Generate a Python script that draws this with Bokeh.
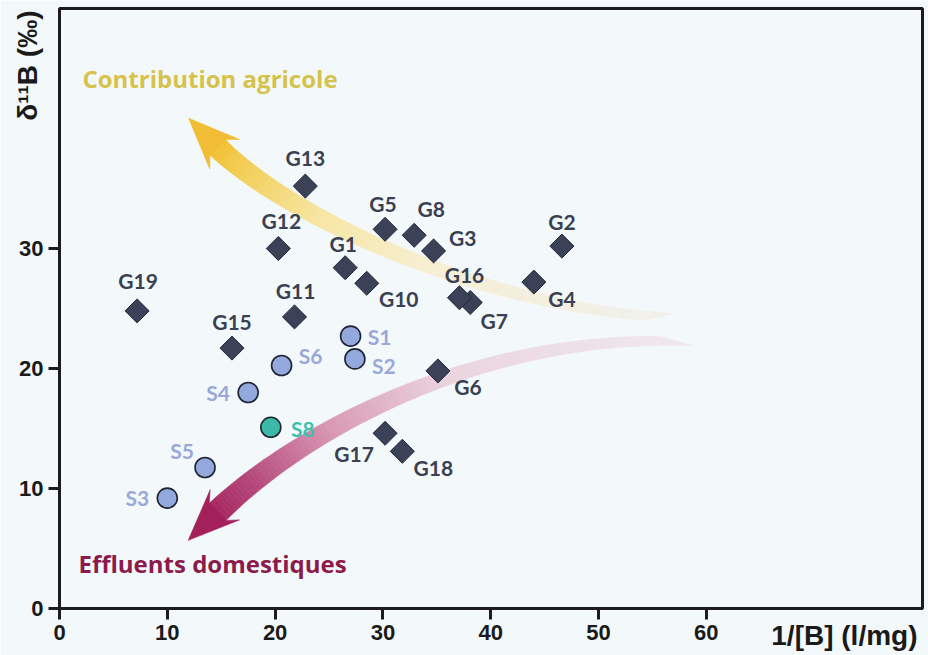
import numpy as np
from bokeh.plotting import figure
from bokeh.models import ColumnDataSource, Label, FixedTicker, Range1d, Title
from bokeh.core.properties import value
from bokeh.embed import file_html
from bokeh.resources import INLINE

# ---------------- data ----------------
g_names = ["G1", "G2", "G3", "G4", "G5", "G6", "G7", "G8", "G10", "G11",
           "G12", "G13", "G15", "G16", "G17", "G18", "G19"]
g_x = [26.5, 46.6, 34.7, 44.0, 30.2, 35.1, 38.1, 32.9, 28.5, 21.8,
       20.3, 22.8, 16.0, 37.1, 30.2, 31.8, 7.2]
g_y = [28.4, 30.2, 29.8, 27.2, 31.6, 19.8, 25.5, 31.1, 27.1, 24.3,
       30.0, 35.2, 21.7, 25.9, 14.6, 13.1, 24.8]

s_names = ["S1", "S2", "S3", "S4", "S5", "S6", "S8"]
s_x = [27.0, 27.4, 10.0, 17.5, 13.5, 20.6, 19.6]
s_y = [22.7, 20.8, 9.2, 18.0, 11.75, 20.25, 15.1]

x_ticks = [0, 10, 20, 30, 40, 50, 60]
y_ticks = [0, 10, 20, 30]

# ---------------- layout / style ----------------
# label offsets (screen px, +y = down)
g_dx = [-2, 0, 29, 28, -2, 30, 24, 17, 32, 1, 3, 0, 0, 5, -31, 31, 1]
g_dy = [-24, -25, -13, 16, -26, 16, 18, -27, 15, -26, -28, -29, -27, -23, 20, 16, -30]
s_dx = [29, 29, -30, -30, -23, 29, 32]
s_dy = [0, 7, -1, 0, -17, -10, 1]

BG = "#f3f9fa"
DARK = "#1c1c1c"
W, H = 928, 655
ML, MR, MT, MB = 59, 6, 8, 47
XMAX, YMAX = 80.05, 50.0
SX = (W - ML - MR) / XMAX
SY = (H - MT - MB) / YMAX

p = figure(width=W, height=H, x_range=Range1d(0, XMAX), y_range=Range1d(0, YMAX),
           output_backend="svg", toolbar_location=None,
           min_border_left=ML, min_border_right=MR, min_border_top=MT, min_border_bottom=MB)
p.background_fill_color = BG
p.border_fill_color = BG
p.grid.visible = False
p.outline_line_color = DARK
p.outline_line_width = 3

p.xaxis.ticker = FixedTicker(ticks=x_ticks)
p.yaxis.ticker = FixedTicker(ticks=y_ticks)
for ax in (p.xaxis[0], p.yaxis[0]):
    ax.axis_line_width = 3
    ax.axis_line_color = DARK
    ax.major_tick_line_width = 3
    ax.major_tick_line_color = DARK
    ax.major_tick_out = 11
    ax.major_tick_in = 0
    ax.minor_tick_line_color = None
    ax.major_label_text_font = "Liberation Sans"
    ax.major_label_text_font_style = "bold"
    ax.major_label_text_font_size = "22px"
    ax.major_label_text_color = "#1a1a1a"
p.xaxis.major_label_standoff = 5
p.yaxis.major_label_standoff = 5

# axis titles as side-panel titles pulled in next to the tick labels
title_style = dict(text_color="#1a1a1a", text_font="Liberation Sans", text_font_style="bold")
p.add_layout(Title(text="1/[B] (l/mg)", align="right", vertical_align="top",
                   standoff=-46, offset=5, text_font_size="28px", **title_style), "below")
p.add_layout(Title(text="δ¹¹B (‰)", align="right", vertical_align="bottom",
                   standoff=-52, offset=2, text_font_size="28px", **title_style), "left")


# ---------------- curved gradient arrows ----------------
def hex2rgb(h):
    h = h.lstrip("#")
    return np.array([int(h[i:i + 2], 16) for i in (0, 2, 4)], dtype=float)


def interp_color(stops, t):
    for (t0, c0), (t1, c1) in zip(stops[:-1], stops[1:]):
        if t0 <= t <= t1:
            f = (t - t0) / (t1 - t0) if t1 > t0 else 0
            c = hex2rgb(c0) * (1 - f) + hex2rgb(c1) * f
            return "#%02x%02x%02x" % tuple(int(round(v)) for v in c)
    return stops[-1][1]


def arrow(ctrl, w0, w1, ext_side, ext_len, stops, head_color, n=90):
    P = np.array([[x * SX, y * SY] for x, y in ctrl])
    ts = np.linspace(0, 1, n)
    mt = 1 - ts
    pts = (mt ** 3)[:, None] * P[0] + (3 * mt ** 2 * ts)[:, None] * P[1] + \
          (3 * mt * ts ** 2)[:, None] * P[2] + (ts ** 3)[:, None] * P[3]
    der = (3 * mt ** 2)[:, None] * (P[1] - P[0]) + (6 * mt * ts)[:, None] * (P[2] - P[1]) + \
          (3 * ts ** 2)[:, None] * (P[3] - P[2])
    tan = der / np.linalg.norm(der, axis=1)[:, None]
    nor = np.stack([-tan[:, 1], tan[:, 0]], axis=1)
    w = w0 + (w1 - w0) * ts
    L = pts + nor * (w / 2)[:, None]
    R = pts - nor * (w / 2)[:, None]
    if ext_side > 0:
        L[0] = L[0] - tan[0] * ext_len
    else:
        R[0] = R[0] - tan[0] * ext_len
    xs, ys, cols = [], [], []
    for i in range(n - 1):
        quad = [L[i], L[i + 1], R[i + 1], R[i]]
        xs.append([q[0] / SX for q in quad])
        ys.append([q[1] / SY for q in quad])
        cols.append(interp_color(stops, (ts[i] + ts[i + 1]) / 2))
    p.patches(xs, ys, fill_color=cols, line_color=cols, line_width=0.6)
    T = tan[-1]
    N = nor[-1]
    base = pts[-1]
    tip = base + T * 40
    wl = base - T * 11 + N * 21
    wr = base - T * 11 - N * 21
    head = [L[-1] - T * 1, wl, tip, wr, R[-1] - T * 1]
    p.patch([q[0] / SX for q in head], [q[1] / SY for q in head],
            fill_color=head_color, line_color=head_color, line_width=0.6)


yellow_ctrl = [(54.4, 24.4), (37.2, 25.7), (20.5, 33.2), (14.6, 38.5)]
magenta_ctrl = [(55.75, 22.3), (38.1, 22.3), (22.4, 14.8), (14.6, 8.0)]

arrow(yellow_ctrl, 9, 22, -1, 28,
      [(0, "#f1f0ea"), (0.4, "#f6efd4"), (0.65, "#f7e6a4"), (0.88, "#f3cf58"), (1, "#f1c033")],
      "#f0bd34")
arrow(magenta_ctrl, 9, 24, 1, 32,
      [(0, "#efe7ec"), (0.4, "#ebd4de"), (0.65, "#d99ab5"), (0.88, "#b4467a"), (1, "#a52860")],
      "#a3205a")

# ---------------- points ----------------
gsrc = ColumnDataSource(dict(x=g_x, y=g_y, name=g_names, dx=g_dx, dy=g_dy))
p.scatter("x", "y", source=gsrc, marker="square", size=17, angle=np.pi / 4,
          fill_color="#3b4257", line_color="#22273a", line_width=1)
p.text("x", "y", text="name", source=gsrc, x_offset="dx", y_offset="dy",
       text_align="center", text_baseline="middle", text_color="#3a3f52",
       text_font=value("Lato"), text_font_style="bold", text_font_size="21px")

s_fill = ["#3bb8a8" if n == "S8" else "#93a8dc" for n in s_names]
s_txt = ["#3cc2ac" if n == "S8" else "#9aa8d8" for n in s_names]
ssrc = ColumnDataSource(dict(x=s_x, y=s_y, name=s_names, dx=s_dx, dy=s_dy,
                             fill=s_fill, tc=s_txt))
p.scatter("x", "y", source=ssrc, marker="circle", size=20,
          fill_color="fill", line_color="#1f2433", line_width=1.6)
p.text("x", "y", text="name", source=ssrc, x_offset="dx", y_offset="dy",
       text_align="center", text_baseline="middle", text_color="tc",
       text_font=value("Lato"), text_font_style="bold", text_font_size="21px")

# ---------------- annotation texts ----------------
p.add_layout(Label(x=13.96, y=44.2, text="Contribution agricole", text_align="center",
                   text_baseline="middle", text_color="#d6c24c", text_font="Open Sans",
                   text_font_style="bold", text_font_size="24px"))
p.add_layout(Label(x=14.2, y=3.75, text="Effluents domestiques", text_align="center",
                   text_baseline="middle", text_color="#8c1a4a", text_font="Open Sans",
                   text_font_style="bold", text_font_size="24px"))

open("out.html", "w").write(file_html(p, INLINE))
